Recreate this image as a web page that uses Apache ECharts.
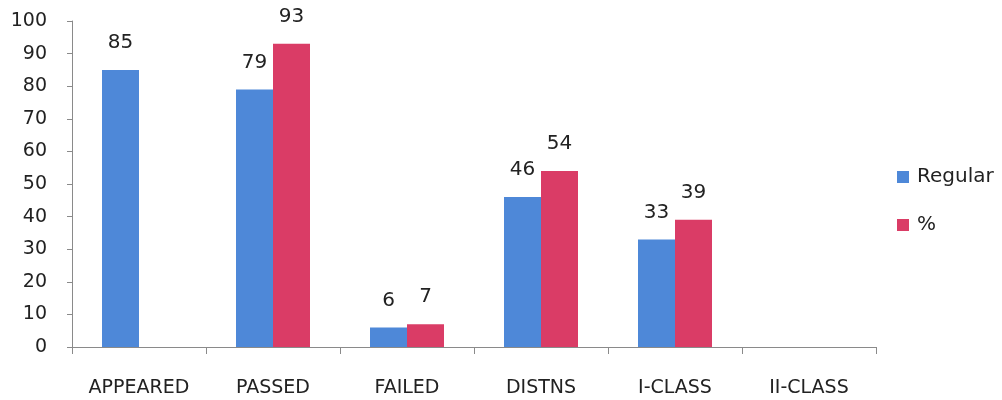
<!DOCTYPE html>
<html>
<head>
<meta charset="utf-8">
<script src="https://cdn.jsdelivr.net/npm/echarts@6/dist/echarts.min.js"></script>
<style>
html, body { margin: 0; padding: 0; background: #fff; }
#chart { width: 1002px; height: 400px; }
</style>
</head>
<body>
<div id="chart"></div>
<script>
// chart data
var categories = ['APPEARED', 'PASSED', 'FAILED', 'DISTNS', 'I-CLASS', 'II-CLASS'];
var regular = [85, 79, 6, 46, 33, null];
var percent = [null, 93, 7, 54, 39, null];

var chart = echarts.init(document.getElementById('chart'));
var font = '"DejaVu Sans", sans-serif';

var option = {
    animation: false,
    textStyle: { fontFamily: font },
    grid: { left: 72, right: 126, top: 21, bottom: 53 },
    legend: {
        orient: 'vertical',
        left: 892,
        top: 162,
        itemWidth: 12,
        itemHeight: 12,
        itemGap: 28,
        icon: 'rect',
        textStyle: { fontSize: 20, color: '#222', fontFamily: font, padding: [0, 0, 0, 3] },
        data: ['Regular', '%']
    },
    xAxis: {
        type: 'category',
        data: categories,
        axisLine: { lineStyle: { color: '#8a8a8a', width: 1 } },
        axisTick: { show: true, length: 7, lineStyle: { color: '#8a8a8a' } },
        axisLabel: { color: '#222', fontSize: 19, margin: 32, interval: 0 },
        splitLine: { show: false }
    },
    yAxis: {
        type: 'value',
        min: 0,
        max: 100,
        interval: 10,
        axisLine: { show: true, lineStyle: { color: '#8a8a8a', width: 1 } },
        axisTick: { show: true, length: 5, lineStyle: { color: '#8a8a8a' } },
        axisLabel: { color: '#222', fontSize: 19, margin: 25 },
        splitLine: { show: false }
    },
    series: [{
        name: 'Regular',
        type: 'bar',
        data: regular,
        barWidth: 37,
        barGap: 0,
        itemStyle: { color: '#4e88d8' },
        label: { show: true, position: 'top', distance: 17, fontSize: 20, color: '#222' }
    }, {
        name: '%',
        type: 'bar',
        data: percent,
        barWidth: 37,
        barGap: 0,
        itemStyle: { color: '#da3c66' },
        label: { show: true, position: 'top', distance: 17, fontSize: 20, color: '#222' }
    }]
};
chart.setOption(option);
</script>
</body>
</html>
